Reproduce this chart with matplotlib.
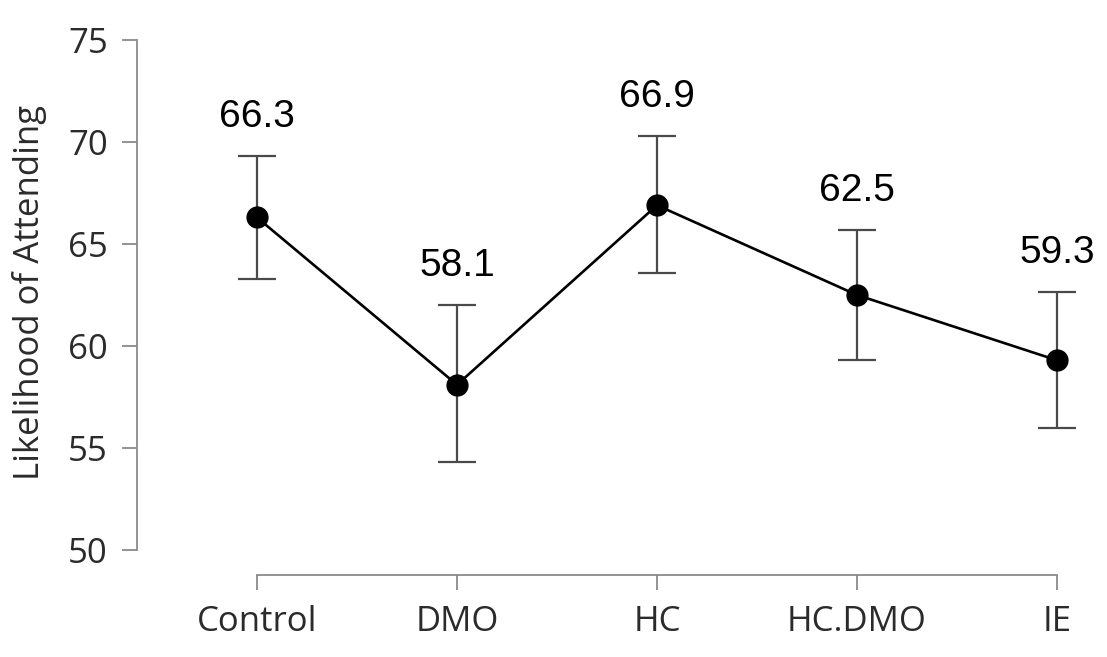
import numpy as np
import matplotlib
matplotlib.use('Agg')
import matplotlib.pyplot as plt

# data
groups = ['Control', 'DMO', 'HC', 'HC.DMO', 'IE']
means = [66.3, 58.1, 66.9, 62.5, 59.3]
err_lo = [3.0, 3.8, 3.3, 3.2, 3.3]
err_hi = [3.0, 3.9, 3.4, 3.2, 3.35]
yticks = [50, 55, 60, 65, 70, 75]

fig = plt.figure(figsize=(11.07, 6.57), dpi=100)
W, H = 1107, 657
# axes box in pixels: left 137, right 1085, top 40, bottom 575
ax = fig.add_axes([137 / W, (H - 575) / H, (1085 - 137) / W, (575 - 40) / H])

x = np.arange(len(groups))
ax.errorbar(x, means, yerr=[err_lo, err_hi], fmt='none', ecolor='#4a4a4a',
            elinewidth=1.6, capsize=14, capthick=1.6, zorder=2)
ax.plot(x, means, '-', color='black', lw=1.9, zorder=3)
ax.plot(x, means, 'o', color='black', ms=15, zorder=4)

# value labels above the upper caps
for xi, m, e in zip(x, means, err_hi):
    ax.annotate(f'{m:.1f}', (xi, m + e), xytext=(0, 21), textcoords='offset points',
                ha='center', va='baseline', fontsize=28, family='Liberation Sans')

ax.set_xlim(-0.6, 4.14)
ax.set_ylim(75 - 535 / 20.4, 75)

for s in ['top', 'right']:
    ax.spines[s].set_visible(False)
ax.spines['left'].set_bounds(50, 75)
ax.spines['bottom'].set_bounds(0, 4)
for s in ['left', 'bottom']:
    ax.spines[s].set_color('#8a8a8a')
    ax.spines[s].set_linewidth(1.3)

ax.set_yticks(yticks)
ax.set_xticks(x)
ax.set_xticklabels(groups)
ax.tick_params(axis='both', direction='out', length=11, width=1.3, color='#8a8a8a',
               labelsize=25, labelcolor='#2b2b2b')
ax.tick_params(axis='y', pad=10)
ax.tick_params(axis='x', pad=10.5)
for lab in ax.get_xticklabels() + ax.get_yticklabels():
    lab.set_family('Open Sans')

ax.set_ylabel('Likelihood of Attending', fontsize=25, family='Open Sans',
              color='#2b2b2b', va='center')
ax.yaxis.set_label_coords(-0.113, 0.529)

fig.savefig('out.png', dpi=100)
